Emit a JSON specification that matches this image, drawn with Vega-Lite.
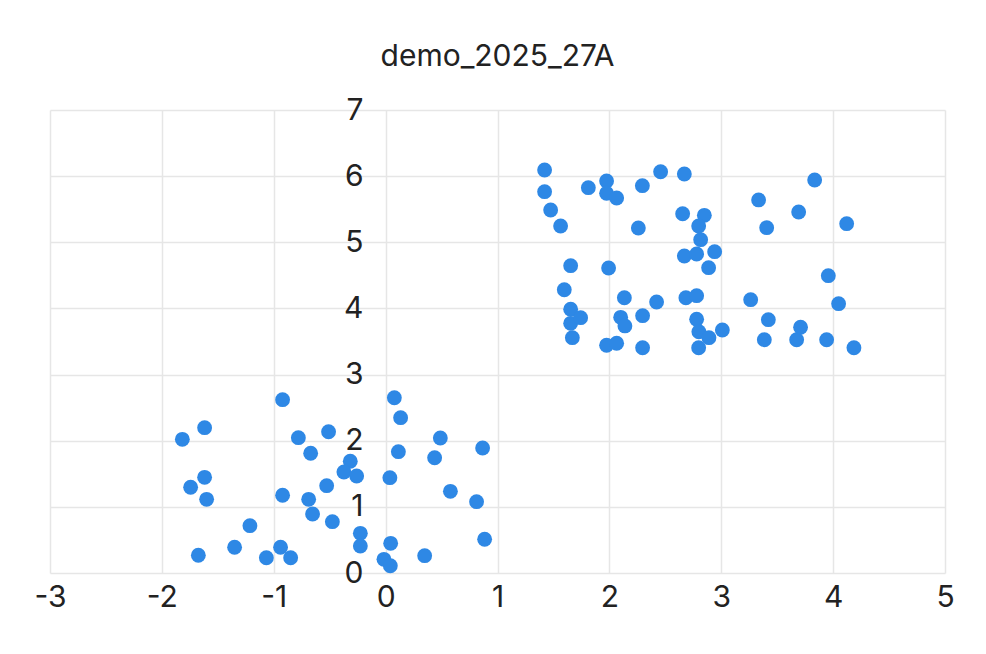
{
  "$schema": "https://vega.github.io/schema/vega-lite/v6.json",
  "width": 895,
  "height": 463,
  "autosize": {"type": "none"},
  "padding": {"left": 50, "top": 110, "right": 41, "bottom": 81},
  "background": "white",
  "title": {"text": "demo_2025_27A", "fontSize": 30, "fontWeight": "normal", "font": "Inter", "color": "#222222", "anchor": "middle", "offset": 23},
  "config": {
    "view": {"stroke": null},
    "axis": {"labelFont": "Inter", "labelFontSize": 30, "labelColor": "#222222", "gridColor": "#e6e6e6", "gridWidth": 1.5, "domain": false, "ticks": false, "title": null, "labelExpr": "'' + datum.value"}
  },
  "data": {"values": [
    {"x": -1.817, "y": 2.021}, {"x": -1.618, "y": 2.197}, {"x": -1.743, "y": 1.296}, {"x": -1.618, "y": 1.447},
    {"x": -1.600, "y": 1.114}, {"x": -1.674, "y": 0.268}, {"x": -1.350, "y": 0.389}, {"x": -1.213, "y": 0.715},
    {"x": -1.066, "y": 0.231}, {"x": -0.939, "y": 0.389}, {"x": -0.849, "y": 0.231}, {"x": -0.921, "y": 2.620},
    {"x": -0.921, "y": 1.175}, {"x": -0.780, "y": 2.046}, {"x": -0.670, "y": 1.810}, {"x": -0.688, "y": 1.114},
    {"x": -0.653, "y": 0.892}, {"x": -0.527, "y": 1.320}, {"x": -0.510, "y": 2.136}, {"x": -0.476, "y": 0.776},
    {"x": -0.316, "y": 1.689}, {"x": -0.373, "y": 1.527}, {"x": -0.259, "y": 1.467}, {"x": -0.226, "y": 0.600},
    {"x": -0.226, "y": 0.408}, {"x": 0.038, "y": 1.441}, {"x": 0.078, "y": 2.650}, {"x": 0.134, "y": 2.348},
    {"x": 0.114, "y": 1.834}, {"x": 0.045, "y": 0.449}, {"x": -0.015, "y": 0.207}, {"x": 0.042, "y": 0.110},
    {"x": 0.349, "y": 0.262}, {"x": 0.489, "y": 2.041}, {"x": 0.438, "y": 1.743}, {"x": 0.579, "y": 1.235},
    {"x": 0.813, "y": 1.078}, {"x": 0.867, "y": 1.890}, {"x": 0.885, "y": 0.510},
    {"x": 1.421, "y": 6.093}, {"x": 1.421, "y": 5.765}, {"x": 1.475, "y": 5.488}, {"x": 1.564, "y": 5.246},
    {"x": 1.812, "y": 5.826}, {"x": 1.975, "y": 5.927}, {"x": 1.975, "y": 5.741}, {"x": 2.065, "y": 5.670},
    {"x": 2.295, "y": 5.856}, {"x": 2.458, "y": 6.067}, {"x": 2.670, "y": 6.033}, {"x": 2.259, "y": 5.216},
    {"x": 2.655, "y": 5.432}, {"x": 2.849, "y": 5.408}, {"x": 2.798, "y": 5.246}, {"x": 2.816, "y": 5.039},
    {"x": 2.670, "y": 4.793}, {"x": 2.780, "y": 4.823}, {"x": 2.941, "y": 4.858}, {"x": 2.887, "y": 4.616},
    {"x": 3.334, "y": 5.640}, {"x": 3.406, "y": 5.221}, {"x": 3.692, "y": 5.458}, {"x": 3.835, "y": 5.942},
    {"x": 4.121, "y": 5.281}, {"x": 1.654, "y": 4.646}, {"x": 1.993, "y": 4.611}, {"x": 1.597, "y": 4.283},
    {"x": 1.654, "y": 3.987}, {"x": 1.654, "y": 3.775}, {"x": 1.743, "y": 3.860}, {"x": 1.669, "y": 3.558},
    {"x": 2.134, "y": 4.162}, {"x": 2.422, "y": 4.097}, {"x": 2.684, "y": 4.162}, {"x": 2.780, "y": 4.193},
    {"x": 2.101, "y": 3.866}, {"x": 2.139, "y": 3.735}, {"x": 2.297, "y": 3.890}, {"x": 2.780, "y": 3.836},
    {"x": 2.800, "y": 3.648}, {"x": 2.890, "y": 3.558}, {"x": 3.010, "y": 3.674}, {"x": 1.975, "y": 3.443},
    {"x": 2.065, "y": 3.473}, {"x": 2.297, "y": 3.406}, {"x": 2.798, "y": 3.406}, {"x": 3.263, "y": 4.132},
    {"x": 3.421, "y": 3.830}, {"x": 3.385, "y": 3.527}, {"x": 3.674, "y": 3.527}, {"x": 3.709, "y": 3.715},
    {"x": 3.942, "y": 3.527}, {"x": 3.957, "y": 4.495}, {"x": 4.049, "y": 4.072}, {"x": 4.186, "y": 3.406}
  ]},
  "mark": {"type": "circle", "size": 220, "color": "#2E88E5", "opacity": 1},
  "encoding": {
    "x": {"field": "x", "type": "quantitative", "scale": {"domain": [-3, 5], "nice": false, "zero": false},
      "axis": {"orient": "bottom", "values": [-3, -2, -1, 0, 1, 2, 3, 4, 5], "labelPadding": 9, "labelFlush": false}},
    "y": {"field": "y", "type": "quantitative", "scale": {"domain": [0, 7], "nice": false},
      "axis": {"orient": "left", "offset": -335, "values": [0, 1, 2, 3, 4, 5, 6, 7], "labelPadding": 22, "labelFlush": false}}
  }
}
